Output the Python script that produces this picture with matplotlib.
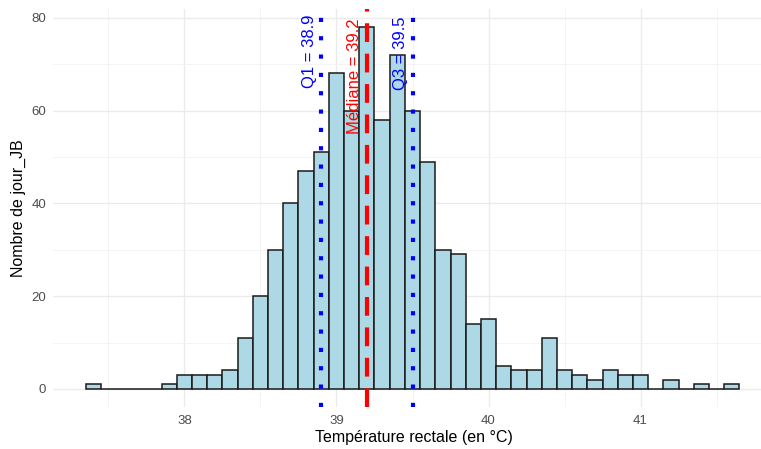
import numpy as np
import matplotlib
matplotlib.use("Agg")
import matplotlib.pyplot as plt

# histogram bins (centres, width 0.1) and counts
centres = [37.4, 37.5, 37.6, 37.7, 37.8, 37.9, 38.0, 38.1, 38.2, 38.3, 38.4,
           38.5, 38.6, 38.7, 38.8, 38.9, 39.0, 39.1, 39.2, 39.3, 39.4, 39.5,
           39.6, 39.7, 39.8, 39.9, 40.0, 40.1, 40.2, 40.3, 40.4, 40.5, 40.6,
           40.7, 40.8, 40.9, 41.0, 41.1, 41.2, 41.3, 41.4, 41.5, 41.6]
counts = [1, 0, 0, 0, 0, 1, 3, 3, 3, 4, 11,
          20, 30, 40, 47, 51, 68, 60, 78, 58, 72, 60,
          49, 30, 29, 14, 15, 5, 4, 4, 11, 4, 3,
          2, 4, 3, 3, 0, 2, 0, 1, 0, 1]
bin_width = 0.1

q1 = 38.9
mediane = 39.2
q3 = 39.5

plt.rcParams['font.family'] = ['Liberation Sans', 'DejaVu Sans']

W, H = 761, 449
fig = plt.figure(figsize=(W / 100, H / 100), dpi=100)
# panel in pixels: left 53, right 772 (cut by the image), top 9, bottom 407
ax = fig.add_axes([53 / W, (H - 407) / H, (772 - 53) / W, (407 - 9) / H])

xmin, xmax = min(centres) - bin_width / 2, max(centres) + bin_width / 2
xpad = 0.05 * (xmax - xmin)
ax.set_xlim(xmin - xpad, xmax + xpad)
ax.set_ylim(-0.05 * max(counts), 1.05 * max(counts))

# grid like theme_minimal
ax.set_xticks([38, 39, 40, 41])
ax.set_yticks([0, 20, 40, 60, 80])
ax.set_xticks([37.5, 38.5, 39.5, 40.5, 41.5], minor=True)
ax.set_yticks([10, 30, 50, 70], minor=True)
ax.grid(which='major', color='#EBEBEB', linewidth=1.0)
ax.grid(which='minor', color='#F2F2F2', linewidth=0.6)
ax.tick_params(which='both', length=0)
ax.tick_params(axis='both', labelsize=9.5, labelcolor='#4D4D4D')
ax.tick_params(axis='x', pad=6)
ax.tick_params(axis='y', pad=5)
for s in ax.spines.values():
    s.set_visible(False)
ax.set_axisbelow(True)

ax.bar(centres, counts, width=bin_width, color='#ADD8E6', edgecolor='#1a1a1a',
       linewidth=1.1, zorder=2)

ax.axvline(q1, color='blue', linewidth=3, linestyle=(0, (1, 3.4)),
           dash_capstyle='butt', zorder=3)
ax.axvline(q3, color='blue', linewidth=3, linestyle=(0, (1, 3.4)),
           dash_capstyle='butt', zorder=3)
ax.axvline(mediane, color='red', linewidth=3, linestyle=(0, (4.5, 2.8)),
           dash_capstyle='butt', zorder=3)

ytxt = 80.8
ax.text(q1 - 0.03, ytxt, "Q1 = %.1f" % q1, rotation=90, color='blue',
        ha='right', va='top', fontsize=12, zorder=4)
ax.text(mediane - 0.03, ytxt - 1.0, "Médiane = %.1f" % mediane, rotation=90,
        color='red', ha='right', va='top', fontsize=12, zorder=4)
ax.text(q3 - 0.03, ytxt - 0.6, "Q3 = %.1f" % q3, rotation=90, color='blue',
        ha='right', va='top', fontsize=12, zorder=4)

ax.set_xlabel("Température rectale (en °C)", fontsize=11.5, color='black')
ax.set_ylabel("Nombre de jour_JB", fontsize=11.5, color='black')
# keep x-label centred on the visible part of the image
ax.xaxis.set_label_coords((414 - 53) / (772 - 53), -0.058)
ax.yaxis.set_label_coords(-(53 - 26) / (772 - 53), 0.5)

fig.savefig("out.png", dpi=100)
